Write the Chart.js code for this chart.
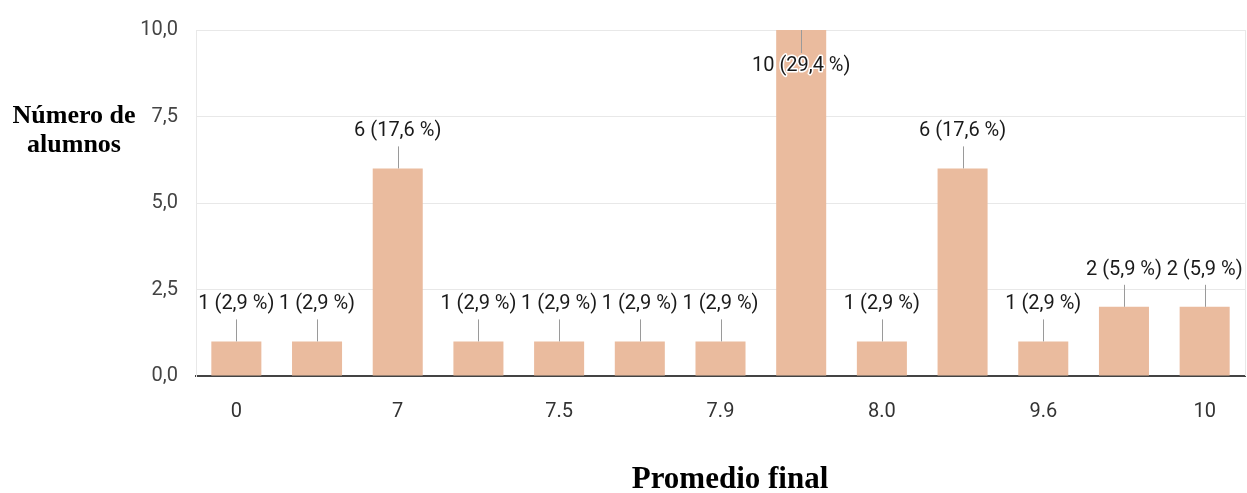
<!DOCTYPE html>
<html>
<head>
<meta charset="utf-8">
<script src="https://cdn.jsdelivr.net/npm/chart.js@4"></script>
<style>
  html, body { margin: 0; padding: 0; background: #fff; }
  #wrap { width: 1247px; height: 493px; position: relative; }
</style>
</head>
<body>
<div id="wrap"><canvas id="promedioChart"></canvas></div>
<script>
// Data (only every other category label is visible)
const categories = ['0', '', '7', '', '7.5', '', '7.9', '', '8.0', '', '9.6', '', '10'];
const alumnos = [1, 1, 6, 1, 1, 1, 1, 10, 1, 6, 1, 2, 2];
const yTicks = [0, 2.5, 5, 7.5, 10];
const yTitle = ['Número de', 'alumnos'];
const xTitle = 'Promedio final';

const total = alumnos.reduce((a, b) => a + b, 0);
const fmt = v => v.toFixed(1).replace('.', ',');

// value labels with leader lines, Google Forms style
const barLabels = {
  id: 'barLabels',
  afterDatasetsDraw(chart) {
    const ctx = chart.ctx;
    const top = chart.chartArea.top;
    ctx.save();
    ctx.font = '20px Roboto';
    ctx.textAlign = 'center';
    ctx.textBaseline = 'middle';
    chart.getDatasetMeta(0).data.forEach((bar, i) => {
      const v = alumnos[i];
      const txt = v + ' (' + fmt(v / total * 100) + ' %)';
      const inside = bar.y - 48 < top;
      const y1 = inside ? bar.y + 23 : bar.y - 22;
      const ty = inside ? bar.y + 36 : bar.y - 37;
      ctx.strokeStyle = '#9a9a9a';
      ctx.lineWidth = 1;
      ctx.beginPath();
      ctx.moveTo(Math.round(bar.x) + 0.5, bar.y);
      ctx.lineTo(Math.round(bar.x) + 0.5, y1);
      ctx.stroke();
      ctx.lineWidth = 3;
      ctx.strokeStyle = '#fff';
      ctx.lineJoin = 'round';
      ctx.strokeText(txt, bar.x, ty);
      ctx.fillStyle = '#1a1a1a';
      ctx.fillText(txt, bar.x, ty);
    });
    ctx.restore();
  },
  afterDraw(chart) {
    const ctx = chart.ctx;
    const a = chart.chartArea;
    ctx.save();
    // right frame line
    ctx.strokeStyle = '#e8e8e8';
    ctx.lineWidth = 1;
    ctx.beginPath();
    ctx.moveTo(a.right + 0.5, a.top);
    ctx.lineTo(a.right + 0.5, a.bottom);
    ctx.stroke();
    // axis titles
    ctx.fillStyle = '#000';
    ctx.textAlign = 'center';
    ctx.textBaseline = 'middle';
    ctx.font = 'bold 26px "Liberation Serif"';
    ctx.fillText(yTitle[0], 74, 116);
    ctx.fillText(yTitle[1], 74, 145);
    ctx.font = 'bold 31px "Liberation Serif"';
    ctx.fillText(xTitle, 730, 480);
    ctx.restore();
  }
};

new Chart(document.getElementById('promedioChart'), {
  type: 'bar',
  data: {
    labels: categories,
    datasets: [{
      data: alumnos,
      backgroundColor: '#eabb9e',
      borderWidth: 0,
      barPercentage: 0.62,
      categoryPercentage: 1
    }]
  },
  options: {
    responsive: true,
    maintainAspectRatio: false,
    animation: false,
    layout: { padding: { top: 29, right: 2, left: 0, bottom: 0 } },
    plugins: { legend: { display: false }, tooltip: { enabled: false } },
    scales: {
      x: {
        offset: true,
        grid: { display: false },
        border: { color: '#444', width: 2 },
        ticks: {
          autoSkip: false, maxRotation: 0, padding: 16,
          color: '#333', font: { family: 'Roboto', size: 20 }
        },
        afterFit: s => { s.height = 117; }
      },
      y: {
        min: 0, max: 10,
        afterBuildTicks: s => { s.ticks = yTicks.map(v => ({ value: v })); },
        grid: { color: '#e8e8e8', drawTicks: false },
        border: { color: '#e8e8e8' },
        ticks: {
          padding: 18, color: '#444',
          font: { family: 'Roboto', size: 20 },
          callback: v => fmt(v)
        },
        afterFit: s => { s.width = 196; }
      }
    }
  },
  plugins: [barLabels]
});
</script>
</body>
</html>
